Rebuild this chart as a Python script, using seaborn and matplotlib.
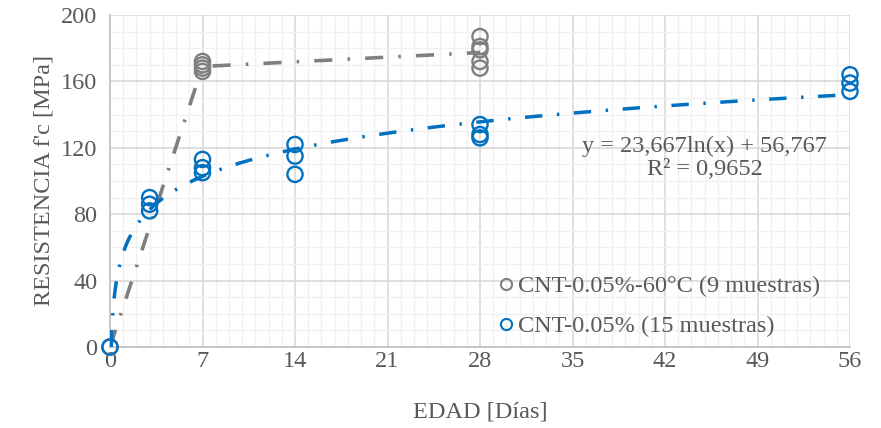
import numpy as np
import pandas as pd
import matplotlib
matplotlib.use("Agg")
import matplotlib.pyplot as plt
import seaborn as sns
from matplotlib.lines import Line2D
from matplotlib.ticker import MultipleLocator

# Compressive strength results by curing age
edad_60c = [0, 7, 7, 7, 7, 28, 28, 28, 28, 28]
fc_60c = [0, 166, 168, 170, 172, 168, 172, 179, 181, 187]

edad_ref = [0, 3, 3, 3, 7, 7, 7, 14, 14, 14, 28, 28, 28, 56, 56, 56]
fc_ref = [0, 82, 86, 90, 105, 108, 113, 104, 115, 122, 126, 128, 134, 154, 159, 164]

# Logarithmic trendline for the CNT-0.05% series
trend_a = 23.667
trend_b = 56.767
trend_r2 = 0.9652

label_60c = "CNT-0.05%-60°C (9 muestras)"
label_ref = "CNT-0.05% (15 muestras)"
x_ticks = [0, 7, 14, 21, 28, 35, 42, 49, 56]
y_ticks = [0, 40, 80, 120, 160, 200]

GRAY = "#7F7F7F"
BLUE = "#0070C0"
TEXT = "#595959"

sns.set_theme(style="white")
plt.rcParams["font.family"] = ["Liberation Serif", "DejaVu Serif"]
FS = 17.5

fig, ax = plt.subplots(figsize=(8.81, 4.28), dpi=100)
fig.subplots_adjust(left=110 / 881, right=850 / 881, bottom=1 - 347 / 428, top=1 - 15 / 428)

df60 = pd.DataFrame({"edad": edad_60c, "fc": fc_60c})
dfref = pd.DataFrame({"edad": edad_ref, "fc": fc_ref})

dashdot = (0, (5.0, 4.2, 0.7, 4.2))

# mean-connecting line for the 60 °C series
sns.lineplot(data=df60, x="edad", y="fc", estimator="mean", errorbar=None,
             color=GRAY, lw=2.6, linestyle=dashdot, dash_capstyle="butt",
             ax=ax, zorder=3)

# points
sns.scatterplot(data=df60, x="edad", y="fc", marker="o", s=120,
                facecolor="none", edgecolor=GRAY, linewidth=1.7,
                ax=ax, zorder=4, clip_on=False)
sns.scatterplot(data=dfref, x="edad", y="fc", marker="o", s=120,
                facecolor="none", edgecolor=BLUE, linewidth=1.7,
                ax=ax, zorder=5, clip_on=False)

# logarithmic trendline
xs = np.geomspace(0.09, 56, 500)
ax.plot(xs, trend_a * np.log(xs) + trend_b, color=BLUE, lw=2.5,
        linestyle=dashdot, dash_capstyle="butt", zorder=6)

ax.set_xlim(0, 56)
ax.set_ylim(0, 200)
ax.set_xticks(x_ticks)
ax.set_yticks(y_ticks)
ax.xaxis.set_minor_locator(MultipleLocator(1))
ax.yaxis.set_minor_locator(MultipleLocator(10))
ax.grid(which="major", color="#D9D9D9", lw=1.2, zorder=0)
ax.grid(which="minor", color="#F0F0F0", lw=1.0, zorder=0)
ax.set_axisbelow(True)

for side in ("top", "right"):
    ax.spines[side].set_visible(False)
for side in ("left", "bottom"):
    ax.spines[side].set_color("#BFBFBF")
    ax.spines[side].set_linewidth(1.2)

ax.tick_params(which="both", direction="out", color="#BFBFBF", width=1.0,
               length=3, labelsize=FS, labelcolor=TEXT)
ax.tick_params(axis="y", which="major", pad=6)
ax.tick_params(axis="x", which="major", pad=0)

ax.set_xlabel("EDAD [Días]", fontsize=FS, color=TEXT, labelpad=21)
ax.set_ylabel("RESISTENCIA f'c [MPa]", fontsize=FS, color=TEXT, labelpad=5)

def fmt(v, nd):
    return f"{v:.{nd}f}".replace(".", ",")

eq = f"y = {fmt(trend_a, 3)}ln(x) + {fmt(trend_b, 3)}\nR² = {fmt(trend_r2, 4)}"
fig.text(705 / 881, 1 - 158 / 428, eq, ha="center", va="center",
         multialignment="center", fontsize=FS, color=TEXT, linespacing=1.15)

handles = [
    Line2D([], [], ls="none", marker="o", ms=8, mfc="none", mec=GRAY, mew=1.5),
    Line2D([], [], ls="none", marker="o", ms=8, mfc="none", mec=BLUE, mew=1.5),
]
ax.legend(handles, [label_60c, label_ref], loc="upper left",
          bbox_to_anchor=(497 / 881, 1 - 275 / 428), bbox_transform=fig.transFigure,
          frameon=False, fontsize=FS, labelcolor=TEXT, handlelength=0.7,
          handletextpad=0.15, labelspacing=0.75, borderpad=0, borderaxespad=0)

fig.savefig("out.png", dpi=100)
